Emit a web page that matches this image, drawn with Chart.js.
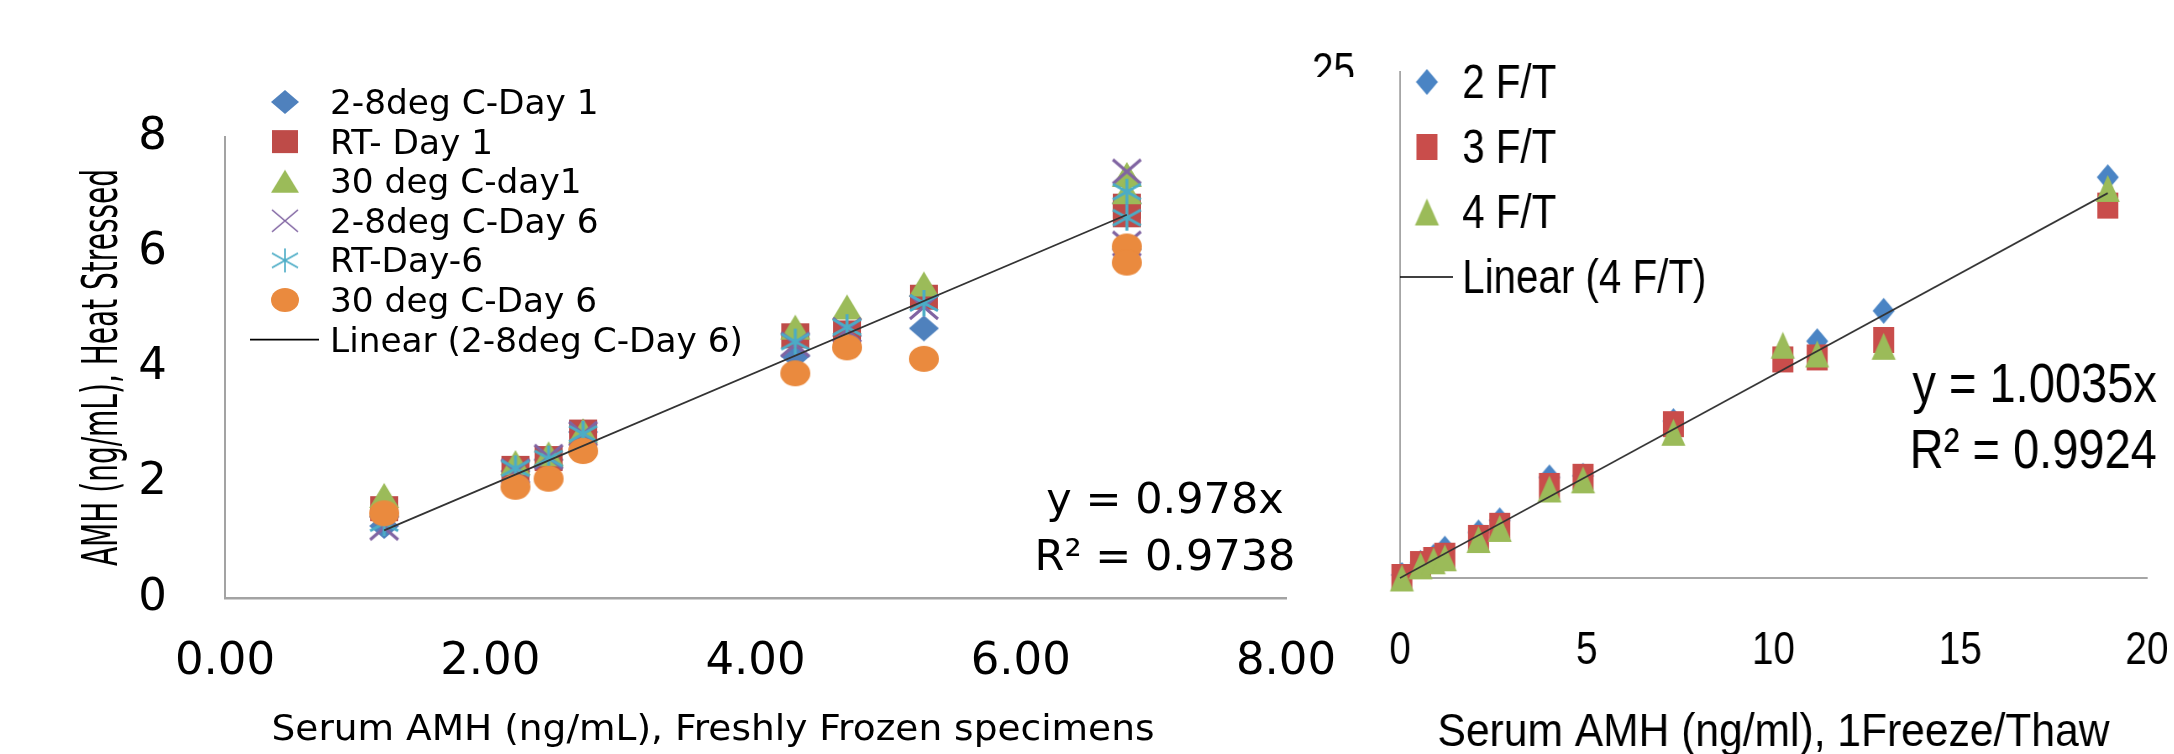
<!DOCTYPE html>
<html>
<head>
<meta charset="utf-8">
<script src="https://cdn.jsdelivr.net/npm/chart.js@4.4.1/dist/chart.umd.min.js"></script>
<style>
html,body{margin:0;padding:0;background:#fff;width:2174px;height:754px;overflow:hidden;}
#wrapR{position:absolute;left:1290px;top:0;width:1052px;height:754px;transform:scaleX(0.84);transform-origin:0 0;z-index:1;}
#wrapL{position:absolute;left:0;top:77px;width:1385px;height:677px;background:#fff;z-index:2;}
canvas{display:block;}
</style>
</head>
<body>
<div id="wrapR"><canvas id="cR" width="1052" height="754"></canvas></div>
<div id="wrapL"><canvas id="cL" width="1385" height="677"></canvas></div>
<script>
// ---------------- Left chart data (heat stress) ----------------
const heatX = [1.2, 2.19, 2.44, 2.7, 4.3, 4.69, 5.27, 6.8, 6.8];
const heatNames = ['2-8deg C-Day 1', 'RT- Day 1', '30 deg C-day1', '2-8deg C-Day 6', 'RT-Day-6', '30 deg C-Day 6'];
const cold1 = [1.25, 2.2, 2.4, 2.88, 4.2, 4.55, 4.68, 6.85, 6.05];
const rt1   = [1.55, 2.25, 2.42, 2.88, 4.55, 4.6, 5.22, 6.8, 6.65];
const warm1 = [1.78, 2.35, 2.5, 2.9, 4.7, 5.05, 5.45, 7.35, 7.05];
const cold6 = [1.22, 2.2, 2.45, 2.85, 4.4, 4.65, 5.05, 7.4, 6.15];
const rt6   = [1.3, 2.25, 2.42, 2.85, 4.45, 4.7, 5.12, 7.05, 6.6];
const warm6 = [1.47, 1.93, 2.07, 2.55, 3.9, 4.35, 4.15, 6.1, 5.82];
const heatTrendName = 'Linear (2-8deg C-Day 6)';
const heatSlope = 0.978;
const heatEq = ['y = 0.978x', 'R\u00B2 = 0.9738'];
const heatXTicks = ['0.00', '2.00', '4.00', '6.00', '8.00'];
const heatYTicks = ['0', '2', '4', '6', '8'];
const heatXTitle = 'Serum AMH (ng/mL), Freshly Frozen specimens';
const heatYTitle = 'AMH (ng/mL), Heat Stressed';

// ---------------- Right chart data (freeze/thaw) ----------------
const ftX = [0.05, 0.55, 0.9, 1.2, 2.1, 2.67, 4.0, 4.9, 7.32, 10.25, 11.17, 12.95, 18.95];
const ft2 = [0.15, 0.75, 1.05, 1.45, 2.25, 2.85, 4.97, 5.05, 7.75, 10.9, 11.7, 13.2, 19.8];
const ft3 = [0.05, 0.69, 0.89, 1.1, 1.98, 2.58, 4.55, 5.0, 7.6, 10.8, 10.9, 11.76, 18.4];
const ft4 = [0.0, 0.6, 0.85, 1.0, 1.9, 2.45, 4.4, 4.85, 7.2, 11.5, 11.07, 11.45, 19.25];
const ftNames = ['2 F/T', '3 F/T', '4 F/T'];
const ftTrendName = 'Linear (4 F/T)';
const ftSlope = 1.0035;
const ftEq = ['y = 1.0035x', 'R\u00B2 = 0.9924'];
const ftXTicks = ['0', '5', '10', '15', '20'];
const ftYTicks = ['0', '5', '10', '15', '20', '25'];
const ftXTitle = 'Serum AMH (ng/ml), 1Freeze/Thaw';

// ---------------- helpers ----------------
function makeMarker(shape, color, w, h, lw) {
  const pad = 2;
  const c = document.createElement('canvas');
  c.width = Math.ceil(w + pad * 2); c.height = Math.ceil(h + pad * 2);
  const g = c.getContext('2d');
  g.translate((c.width - w) / 2, (c.height - h) / 2);
  g.fillStyle = color; g.strokeStyle = color; g.lineWidth = lw || 3;
  g.beginPath();
  if (shape === 'diamond') { g.moveTo(w / 2, 0); g.lineTo(w, h / 2); g.lineTo(w / 2, h); g.lineTo(0, h / 2); g.closePath(); g.fill(); }
  else if (shape === 'square') { g.fillRect(0, 0, w, h); }
  else if (shape === 'triangle') { g.moveTo(w / 2, 0); g.lineTo(w, h); g.lineTo(0, h); g.closePath(); g.fill(); }
  else if (shape === 'circle') { g.ellipse(w / 2, h / 2, w / 2, h / 2, 0, 0, Math.PI * 2); g.fill(); }
  else if (shape === 'cross') { g.moveTo(0, 0); g.lineTo(w, h); g.moveTo(w, 0); g.lineTo(0, h); g.stroke(); }
  else if (shape === 'star') { g.moveTo(0, h * 0.2); g.lineTo(w, h * 0.8); g.moveTo(w, h * 0.2); g.lineTo(0, h * 0.8); g.moveTo(w / 2, 0); g.lineTo(w / 2, h); g.stroke(); }
  return c;
}
function textWidth(ctx, txt, font) { ctx.save(); ctx.font = font; const w = ctx.measureText(txt).width; ctx.restore(); return w; }
function drawText(ctx, txt, x, y, font, opts) {
  opts = opts || {};
  ctx.save();
  ctx.font = font;
  ctx.fillStyle = '#000';
  ctx.textBaseline = 'alphabetic';
  ctx.textAlign = 'left';
  const w = ctx.measureText(txt).width;
  const sx = opts.width ? opts.width / w : (opts.sx || 1);
  const dw = w * sx;
  let left = x;
  if (opts.align === 'right') left = x - dw; else if (opts.align === 'center') left = x - dw / 2;
  ctx.translate(left, y);
  ctx.scale(sx, 1);
  ctx.fillText(txt, 0, 0);
  ctx.restore();
}
const pts = (xs, ys) => xs.map((x, i) => ({ x: x, y: ys[i] }));
const trend = (xs, k) => { const a = Math.min(...xs), b = Math.max(...xs); return [{ x: a, y: k * a }, { x: b, y: k * b }]; };
// axis label overflow must not push the plot area around
const fixY = (w) => (s) => { s.width = w; s.paddingTop = 0; s.paddingBottom = 0; };
const fixX = (h) => (s) => { s.height = h; s.paddingLeft = 0; s.paddingRight = 0; };
function pinArea(chart, t) {
  for (let k = 0; k < 4; k++) {
    const a = chart.chartArea;
    const p = Object.assign({}, chart.options.layout.padding);
    const dTop = t.top - a.top, dRight = a.right - t.right;
    if (Math.abs(dTop) < 0.3 && Math.abs(dRight) < 0.3) break;
    p.top += dTop; p.right += dRight;
    chart.options.layout.padding = p;
    chart.update('none');
  }
}

const DJ = '"DejaVu Sans", sans-serif';
const LS = '"Liberation Sans", Arial, sans-serif';

// ---------------- Left chart ----------------
const heatColors = ['#4F81BD', '#BE4B48', '#9BBB59', '#8064A2', '#4BACC6', '#EA8A3E'];
const heatShapes = ['diamond', 'square', 'triangle', 'cross', 'star', 'circle'];
const heatSizes = [[30, 26], [28, 25], [30, 25], [28, 24], [28, 26], [30, 26]];
const heatValues = [cold1, rt1, warm1, cold6, rt6, warm6];
const heatMarkers = heatShapes.map((s, i) => makeMarker(s, heatColors[i], heatSizes[i][0], heatSizes[i][1], 3));
const heatLegendMarkers = heatShapes.map((s, i) => makeMarker(s, heatColors[i], heatSizes[i][0] - 2, heatSizes[i][1] - 2, 1.6));

const leftDecor = {
  id: 'leftDecor',
  afterDraw(chart) {
    const ctx = chart.ctx, a = chart.chartArea;
    // y title
    ctx.save();
    ctx.translate(104, (a.top + a.bottom) / 2);
    ctx.rotate(-Math.PI / 2);
    ctx.scale(1, 1.75);
    ctx.font = '28px ' + DJ; ctx.fillStyle = '#000'; ctx.textAlign = 'center'; ctx.textBaseline = 'middle';
    ctx.fillText(heatYTitle, 0, 0);
    ctx.restore();
    // x title
    drawText(ctx, heatXTitle, 713, 663, '36px ' + DJ, { align: 'center', width: 883 });
    // legend
    const lf = '33px ' + DJ;
    const lsx = 413 / textWidth(ctx, heatTrendName, lf);
    for (let i = 0; i < heatNames.length; i++) {
      const cy = 25 + i * 39.6, m = heatLegendMarkers[i];
      ctx.drawImage(m, 285 - m.width / 2, cy - m.height / 2);
      drawText(ctx, heatNames[i], 330, cy + 12, lf, { sx: lsx });
    }
    const ly = 25 + 6 * 39.6;
    ctx.save(); ctx.strokeStyle = '#000'; ctx.lineWidth = 1.6; ctx.beginPath(); ctx.moveTo(250, ly); ctx.lineTo(319, ly); ctx.stroke(); ctx.restore();
    drawText(ctx, heatTrendName, 330, ly + 12, lf, { sx: lsx });
    // equation (centred block)
    drawText(ctx, heatEq[0], 1165, 436, '43px ' + DJ, { align: 'center' });
    drawText(ctx, heatEq[1], 1165, 493, '43px ' + DJ, { align: 'center' });
  }
};

const leftDatasets = heatNames.map((n, i) => ({
  label: n, data: pts(heatX, heatValues[i]), pointStyle: heatMarkers[i], pointRadius: 14,
  showLine: false, clip: false, order: 10 - i
}));
leftDatasets.push({ label: heatTrendName, data: trend(heatX, heatSlope), showLine: true, pointRadius: 0,
  borderColor: '#333', borderWidth: 1.8, order: 0, clip: false });

const chartL = new Chart(document.getElementById('cL'), {
  type: 'scatter',
  data: { datasets: leftDatasets },
  options: {
    responsive: false, animation: false, events: [],
    layout: { autoPadding: false, padding: { left: 0, top: 60, right: 99, bottom: 0 } },
    plugins: { legend: { display: false }, tooltip: { enabled: false } },
    scales: {
      x: {
        type: 'linear', position: 'bottom', min: 0, max: 8,
        afterFit: fixX(156),
        grid: { display: false, drawTicks: false },
        border: { display: true, color: '#a3a3a3', width: 2.5 },
        ticks: { stepSize: 2, autoSkip: false, maxRotation: 0, padding: 37, color: '#000',
          font: { family: DJ, size: 45 }, callback: (v, i) => heatXTicks[i] }
      },
      y: {
        type: 'linear', position: 'left', min: 0, max: 8,
        afterFit: fixY(225),
        grid: { display: false, drawTicks: false },
        border: { display: true, color: '#a3a3a3', width: 2 },
        ticks: { stepSize: 2, autoSkip: false, padding: 58, color: '#000',
          font: { family: DJ, size: 45 }, callback: (v, i) => heatYTicks[i] }
      }
    }
  },
  plugins: [leftDecor]
});
pinArea(chartL, { top: 60, right: 1286 });

// ---------------- Right chart (drawn in a canvas squeezed to 0.84 width) ----------------
const SX = 0.84;
const ftColors = ['#4A84C4', '#C94D4B', '#9BBB59'];
const ftShapes = ['diamond', 'square', 'triangle'];
const ftSizes = [[22 / SX, 26], [21 / SX, 26], [24 / SX, 27]];
const ftValues = [ft2, ft3, ft4];
const ftMarkers = ftShapes.map((s, i) => makeMarker(s, ftColors[i], ftSizes[i][0], ftSizes[i][1], 3));

const rightDecor = {
  id: 'rightDecor',
  afterDraw(chart) {
    const ctx = chart.ctx, a = chart.chartArea;
    for (let i = 0; i < ftNames.length; i++) {
      const cy = 82 + i * 65, m = ftMarkers[i];
      ctx.drawImage(m, 163 - m.width / 2, cy - m.height / 2);
      drawText(ctx, ftNames[i], 205, cy + 16, '48px ' + LS);
    }
    const ly = 82 + 3 * 65;
    ctx.save(); ctx.strokeStyle = '#000'; ctx.lineWidth = 1.6; ctx.beginPath(); ctx.moveTo(a.left, ly); ctx.lineTo(194, ly); ctx.stroke(); ctx.restore();
    drawText(ctx, ftTrendName, 205, ly + 16, '48px ' + LS);
    drawText(ctx, ftEq[0], 1032, 402, '56px ' + LS, { align: 'right' });
    drawText(ctx, ftEq[1], 1032, 468, '56px ' + LS, { align: 'right' });
    drawText(ctx, ftXTitle, (a.left + a.right) / 2, 746, '46px ' + LS, { align: 'center', width: 800 });
  }
};

const rightDatasets = ftNames.map((n, i) => ({
  label: n, data: pts(ftX, ftValues[i]), pointStyle: ftMarkers[i], pointRadius: 14,
  showLine: false, clip: false, order: 10 - i
}));
rightDatasets.push({ label: ftTrendName, data: trend(ftX.concat([0]), ftSlope), showLine: true, pointRadius: 0,
  borderColor: '#333', borderWidth: 1.8, order: 0, clip: false });

const chartR = new Chart(document.getElementById('cR'), {
  type: 'scatter',
  data: { datasets: rightDatasets },
  options: {
    responsive: false, animation: false, events: [],
    layout: { autoPadding: false, padding: { left: 0, top: 72, right: 31.8, bottom: 0 } },
    plugins: { legend: { display: false }, tooltip: { enabled: false } },
    scales: {
      x: {
        type: 'linear', position: 'bottom', min: 0, max: 20,
        afterFit: fixX(176),
        grid: { display: false, drawTicks: false },
        border: { display: true, color: '#a6a6a6', width: 2 },
        ticks: { stepSize: 5, autoSkip: false, maxRotation: 0, padding: 46, color: '#000',
          font: { family: LS, size: 46 }, callback: (v, i) => ftXTicks[i] }
      },
      y: {
        type: 'linear', position: 'left', min: 0, max: 25,
        afterFit: fixY(130.95),
        grid: { display: false, drawTicks: false },
        border: { display: true, color: '#a6a6a6', width: 2 },
        ticks: { stepSize: 5, autoSkip: false, padding: 53.5, color: '#000',
          font: { family: LS, size: 46 }, callback: (v, i) => ftYTicks[i] }
      }
    }
  },
  plugins: [rightDecor]
});
pinArea(chartR, { top: 72, right: 1020.2 });
</script>
</body>
</html>
